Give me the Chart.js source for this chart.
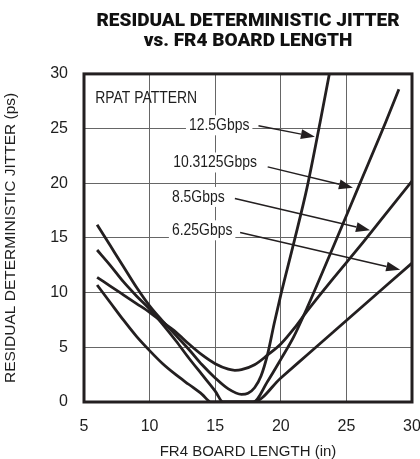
<!DOCTYPE html>
<html>
<head>
<meta charset="utf-8">
<script src="https://cdn.jsdelivr.net/npm/chart.js@4.4.0/dist/chart.umd.min.js"></script>
<style>
  html, body { margin: 0; padding: 0; background: #fff; }
</style>
</head>
<body>
<canvas id="jitterChart" width="420" height="459"></canvas>
<script>
// board length (in) and residual jitter (ps)
const length125 = [6, 7, 8, 9, 10, 11, 12, 13, 14, 15, 16, 17, 17.5, 18, 18.5, 19, 19.5, 20, 21, 22, 23, 23.7];
const jitter125 = [16.2, 14.3, 12.4, 10.5, 8.8, 7.4, 6.1, 4.8, 3.4, 2.2, 1.2, 0.7, 0.8, 1.3, 2.4, 4.4, 7.2, 9.8, 14.6, 19.6, 25.6, 30];

const length103 = [6, 7, 8, 9, 10, 11, 12, 13, 14, 15, 15.6, 17.9, 19, 20, 21, 22, 24, 26, 28, 29];
const jitter103 = [13.9, 12.5, 11.0, 9.7, 8.5, 7.1, 5.6, 4.0, 2.5, 1.0, 0, 0, 1.9, 3.9, 6.0, 8.6, 14.2, 19.9, 25.6, 28.6];

const length85 = [6, 7, 8, 9, 10, 11, 12, 13, 14, 15, 16, 16.5, 17, 18, 19, 20, 21, 22, 24, 26, 28, 30];
const jitter85 = [11.4, 10.6, 9.8, 9.0, 8.2, 7.3, 6.4, 5.3, 4.3, 3.5, 3.0, 2.9, 2.95, 3.4, 4.3, 5.3, 6.7, 8.3, 11.3, 14.2, 17.2, 20.2];

const length625 = [6, 7, 8, 9, 10, 11, 12, 13, 14, 14.7, 17.9, 20, 22, 24, 26, 28, 30];
const jitter625 = [10.7, 9.1, 7.5, 6.0, 4.7, 3.5, 2.5, 1.6, 0.7, 0, 0, 2.2, 4.3, 6.4, 8.5, 10.6, 12.7];

const seriesNames = ['12.5Gbps', '10.3125Gbps', '8.5Gbps', '6.25Gbps'];
const xTicks = [5, 10, 15, 20, 25, 30];
const yTicks = [0, 5, 10, 15, 20, 25, 30];

// callout labels: text at (x, y), arrow from (ax, ay) to (tx, ty), all in data units
const callouts = [
  { text: '12.5Gbps',    x: 13.0, y: 25.3, ax: 18.3, ay: 25.25, tx: 22.6, ty: 24.25 },
  { text: '10.3125Gbps', x: 11.8, y: 21.9, ax: 19.0, ay: 21.5,  tx: 25.5, ty: 19.6 },
  { text: '8.5Gbps',     x: 11.7, y: 18.75, ax: 16.5, ay: 18.6, tx: 26.8, ty: 15.7 },
  { text: '6.25Gbps',    x: 11.7, y: 15.7, ax: 16.9, ay: 15.5,  tx: 29.1, ty: 12.1 }
];

const FONT = "'Liberation Sans', Arial, sans-serif";
const INK = '#231f20';

function toPoints(xs, ys) {
  return xs.map((x, i) => ({ x: x, y: ys[i] }));
}

function drawArrow(ctx, x1, y1, x2, y2) {
  const ang = Math.atan2(y2 - y1, x2 - x1);
  const head = 14, half = 5;
  const c = Math.cos(ang), s = Math.sin(ang);
  ctx.beginPath();
  ctx.moveTo(x1, y1);
  ctx.lineTo(x2 - head * c, y2 - head * s);
  ctx.stroke();
  ctx.beginPath();
  ctx.moveTo(x2, y2);
  ctx.lineTo(x2 - head * c + half * s, y2 - head * s - half * c);
  ctx.lineTo(x2 - head * c - half * s, y2 - head * s + half * c);
  ctx.closePath();
  ctx.fill();
}

// narrow text: the original uses a condensed face
function narrowText(ctx, text, x, y, squeeze) {
  ctx.save();
  ctx.translate(x, y);
  ctx.scale(squeeze, 1);
  ctx.fillText(text, 0, 0);
  ctx.restore();
}

const annotations = {
  id: 'annotations',
  afterDatasetsDraw(chart) {
    const ctx = chart.ctx;
    const xs = chart.scales.x, ys = chart.scales.y;
    const area = chart.chartArea;
    ctx.save();

    // heavy frame round the plot
    ctx.strokeStyle = INK;
    ctx.lineWidth = 3;
    ctx.strokeRect(area.left, area.top, area.right - area.left, area.bottom - area.top);

    const squeeze = 0.82;
    ctx.font = '17px ' + FONT;
    ctx.textBaseline = 'middle';
    ctx.textAlign = 'left';
    ctx.fillStyle = '#1e1e1e';
    narrowText(ctx, 'RPAT PATTERN', xs.getPixelForValue(5.85), ys.getPixelForValue(27.8), squeeze);

    callouts.forEach(c => {
      const px = xs.getPixelForValue(c.x), py = ys.getPixelForValue(c.y);
      const w = ctx.measureText(c.text).width * squeeze;
      ctx.fillStyle = '#fff';
      ctx.fillRect(px - 3, py - 10, w + 6, 20);
      ctx.fillStyle = '#1e1e1e';
      narrowText(ctx, c.text, px, py, squeeze);
      ctx.strokeStyle = INK;
      ctx.fillStyle = INK;
      ctx.lineWidth = 1.5;
      drawArrow(ctx, xs.getPixelForValue(c.ax), ys.getPixelForValue(c.ay),
                xs.getPixelForValue(c.tx), ys.getPixelForValue(c.ty));
    });
    ctx.restore();
  }
};

const lineStyle = {
  showLine: true,
  borderColor: INK,
  borderWidth: 2.8,
  pointRadius: 0,
  cubicInterpolationMode: 'monotone',
  fill: false
};

const ctx = document.getElementById('jitterChart').getContext('2d');
const jitterChart = new Chart(ctx, {
  type: 'scatter',
  data: {
    datasets: [
      Object.assign({ label: seriesNames[0], data: toPoints(length125, jitter125) }, lineStyle),
      Object.assign({ label: seriesNames[1], data: toPoints(length103, jitter103) }, lineStyle),
      Object.assign({ label: seriesNames[2], data: toPoints(length85, jitter85) }, lineStyle),
      Object.assign({ label: seriesNames[3], data: toPoints(length625, jitter625) }, lineStyle)
    ]
  },
  options: {
    responsive: false,
    animation: false,
    devicePixelRatio: 1,
    layout: { padding: { left: 0, right: 8, top: 0, bottom: 0 } },
    plugins: {
      legend: { display: false },
      tooltip: { enabled: false },
      title: {
        display: true,
        fullSize: false,
        text: ['RESIDUAL DETERMINISTIC JITTER', 'vs. FR4 BOARD LENGTH'],
        color: '#111',
        font: { family: "Roboto, 'Liberation Sans', sans-serif", size: 19, weight: '900', lineHeight: 1.05 },
        padding: { top: 11, bottom: 23 }
      }
    },
    scales: {
      x: {
        type: 'linear',
        min: 5,
        max: 30,
        afterBuildTicks: s => { s.ticks = xTicks.map(v => ({ value: v })); },
        afterFit: s => { s.height = 57; s.paddingLeft = 0; s.paddingRight = 0; },
        grid: { color: '#666', lineWidth: 1, drawTicks: false },
        border: { display: false },
        ticks: { color: '#1e1e1e', padding: 15, font: { family: FONT, size: 16 } },
        title: {
          display: true,
          text: 'FR4 BOARD LENGTH (in)',
          color: '#1e1e1e',
          font: { family: FONT, size: 15, lineHeight: 1.0 },
          padding: { top: 0, bottom: 0 }
        }
      },
      y: {
        type: 'linear',
        min: 0,
        max: 30,
        afterBuildTicks: s => { s.ticks = yTicks.map(v => ({ value: v })); },
        afterFit: s => { s.width = 84; },
        grid: { color: '#666', lineWidth: 1, drawTicks: false },
        border: { display: false },
        ticks: { color: '#1e1e1e', padding: 16, font: { family: FONT, size: 16 } },
        title: {
          display: true,
          text: 'RESIDUAL DETERMINISTIC JITTER (ps)',
          color: '#1e1e1e',
          font: { family: FONT, size: 15.5, lineHeight: 1.0 },
          padding: { top: 3, bottom: 0 }
        }
      }
    }
  },
  plugins: [annotations]
});
</script>
</body>
</html>
